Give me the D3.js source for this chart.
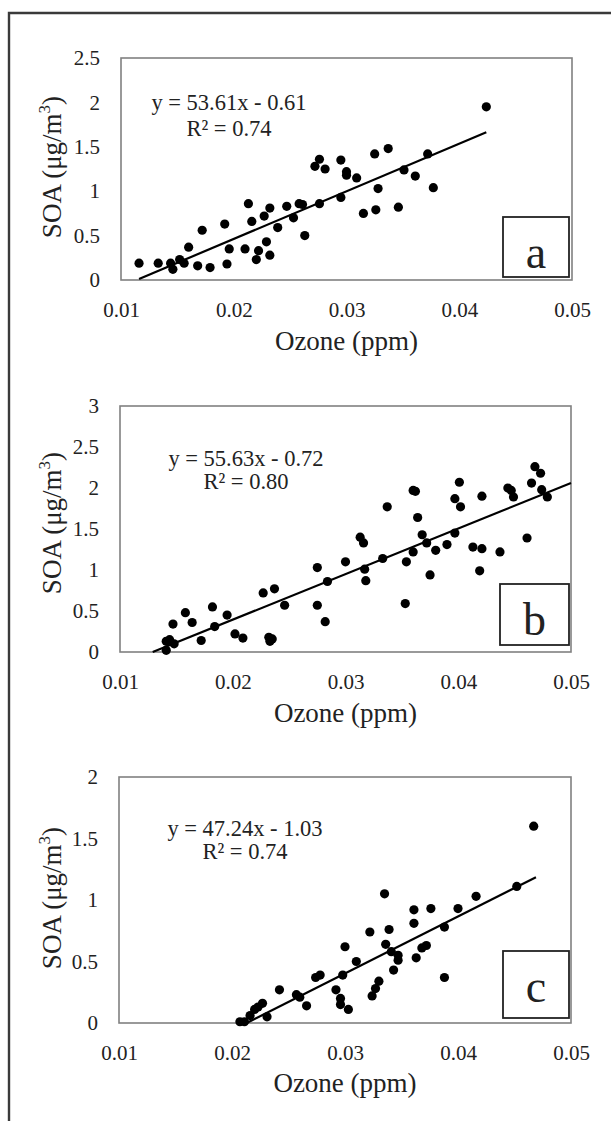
<!DOCTYPE html>
<html>
<head>
<meta charset="utf-8">
<script src="https://cdn.jsdelivr.net/npm/d3@7"></script>
</head>
<body style="margin:0">
<svg id="chart" width="611" height="1121"></svg>
<script>
// Ozone (ppm) vs SOA (µg/m3) measurements, one pair of arrays per panel
const ozoneA = [0.0116,0.0133,0.0144,0.0146,0.0152,0.0156,0.0160,0.0168,0.0172,0.0179,
  0.0192,0.0194,0.0196,0.0210,0.0213,0.0216,0.0220,0.0222,0.0227,0.0229,
  0.0232,0.0232,0.0239,0.0247,0.0253,0.0258,0.0261,0.0263,0.0272,0.0276,
  0.0281,0.0276,0.0295,0.0295,0.0300,0.0300,0.0309,0.0325,0.0337,0.0328,
  0.0315,0.0326,0.0346,0.0351,0.0361,0.0372,0.0377,0.0424];
const soaA = [0.19,0.19,0.19,0.12,0.23,0.19,0.37,0.16,0.56,0.14,
  0.63,0.18,0.35,0.35,0.86,0.66,0.23,0.33,0.72,0.43,
  0.28,0.81,0.59,0.83,0.70,0.86,0.85,0.50,1.28,1.36,
  1.25,0.86,1.35,0.93,1.22,1.18,1.15,1.42,1.48,1.03,
  0.75,0.79,0.82,1.24,1.17,1.42,1.04,1.95];

const ozoneB = [0.0141,0.0141,0.0144,0.0148,0.0147,0.0158,0.0164,0.0172,0.0182,0.0184,
  0.0195,0.0202,0.0209,0.0227,0.0237,0.0232,0.0233,0.0235,0.0246,0.0275,
  0.0275,0.0284,0.0282,0.0300,0.0313,0.0316,0.0317,0.0318,0.0333,0.0337,
  0.0354,0.0353,0.0360,0.0360,0.0362,0.0364,0.0368,0.0372,0.0375,0.0380,
  0.0390,0.0397,0.0397,0.0402,0.0401,0.0413,0.0421,0.0419,0.0421,0.0437,
  0.0444,0.0447,0.0449,0.0461,0.0465,0.0468,0.0473,0.0474,0.0479];
const soaB = [0.02,0.13,0.15,0.10,0.34,0.48,0.36,0.14,0.55,0.31,
  0.45,0.22,0.17,0.72,0.77,0.18,0.13,0.16,0.57,1.03,
  0.57,0.86,0.37,1.10,1.40,1.33,1.01,0.87,1.14,1.77,
  1.10,0.59,1.22,1.97,1.96,1.64,1.43,1.33,0.94,1.24,
  1.31,1.45,1.87,1.77,2.07,1.28,1.26,0.99,1.90,1.22,
  2.00,1.97,1.89,1.39,2.06,2.26,2.18,1.98,1.89];

const ozoneC = [0.0207,0.0211,0.0216,0.0220,0.0223,0.0227,0.0231,0.0242,0.0257,0.0260,
  0.0266,0.0274,0.0278,0.0292,0.0296,0.0296,0.0300,0.0298,0.0303,0.0310,
  0.0322,0.0324,0.0327,0.0330,0.0335,0.0336,0.0339,0.0341,0.0343,0.0347,
  0.0347,0.0361,0.0361,0.0363,0.0368,0.0372,0.0376,0.0388,0.0388,0.0400,
  0.0416,0.0452,0.0467];
const soaC = [0.01,0.01,0.06,0.11,0.13,0.16,0.05,0.27,0.23,0.21,
  0.14,0.37,0.39,0.27,0.20,0.15,0.62,0.39,0.11,0.50,
  0.74,0.22,0.28,0.34,1.05,0.64,0.76,0.58,0.43,0.55,
  0.51,0.92,0.81,0.53,0.61,0.63,0.93,0.37,0.78,0.93,
  1.03,1.11,1.60];

// Linear fits printed on each panel
const panelLetters = ["a", "b", "c"];
const fitSlopes = [53.61, 55.63, 47.24];
const fitIntercepts = [-0.61, -0.72, -1.03];
const fitR2 = ["0.74", "0.80", "0.74"];
const fitStart = [0.0116, 0.0129, 0.0213];
const fitEnd = [0.0424, 0.05, 0.0469];

// Axes
const xDomain = [0.01, 0.05];
const xTicks = [0.01, 0.02, 0.03, 0.04, 0.05];
const yMaxes = [2.5, 3, 2];
const yTicksA = [0, 0.5, 1, 1.5, 2, 2.5];
const yTicksB = [0, 0.5, 1, 1.5, 2, 2.5, 3];
const yTicksC = [0, 0.5, 1, 1.5, 2];
const xTitle = "Ozone (ppm)";

const SERIF = "Liberation Serif";

const panels = [
  { ox: ozoneA, soa: soaA, yTicks: yTicksA, top: 58, bottom: 280, left: 121, right: 572,
    eqX: 229, eqY: 110, r2Y: 136, box: { w: 66, h: 60, dx: 3, dy: 3, base: 9 }, titleY: 167, xTitleY: 350 },
  { ox: ozoneB, soa: soaB, yTicks: yTicksB, top: 406, bottom: 652, left: 120, right: 571,
    eqX: 246, eqY: 466, r2Y: 489, box: { w: 69, h: 61, dx: 2, dy: 7, base: 10 }, titleY: 523, xTitleY: 722 },
  { ox: ozoneC, soa: soaC, yTicks: yTicksC, top: 777, bottom: 1023, left: 119, right: 571,
    eqX: 245, eqY: 836, r2Y: 859, box: { w: 66, h: 67, dx: 2, dy: 5, base: 16 }, titleY: 898, xTitleY: 1092 }
];

const svg = d3.select("#chart");

// serif label with explicit size
function label(parent, size) {
  return parent.append("text")
    .style("font-family", SERIF)
    .style("font-size", size + "px")
    .style("fill", "#222");
}

// outer frame (only top and left edges fall inside the page)
svg.append("path")
  .attr("d", "M9,1121 V13 H611")
  .attr("fill", "none")
  .attr("stroke", "#3a3a3a")
  .attr("stroke-width", 2.4);

panels.forEach((p, i) => {
  const x = d3.scaleLinear().domain(xDomain).range([p.left, p.right]);
  const y = d3.scaleLinear().domain([0, yMaxes[i]]).range([p.bottom, p.top]);

  // plot frame
  svg.append("rect")
    .attr("x", p.left).attr("y", p.top)
    .attr("width", p.right - p.left).attr("height", p.bottom - p.top)
    .attr("fill", "none").attr("stroke", "#808080").attr("stroke-width", 1.6);

  // y axis labels
  const ya = svg.append("g")
    .attr("transform", `translate(${p.left},0)`)
    .call(d3.axisLeft(y).tickValues(p.yTicks).tickSize(0).tickPadding(21).tickFormat(d => String(d)));
  ya.select(".domain").remove();
  ya.attr("font-family", SERIF).attr("font-size", 21);
  ya.selectAll("text").style("font-family", SERIF).style("font-size", "21px").style("fill", "#222");

  // x axis labels
  const xa = svg.append("g")
    .attr("transform", `translate(0,${p.bottom})`)
    .call(d3.axisBottom(x).tickValues(xTicks).tickSize(0).tickPadding(22).tickFormat(d3.format(".2f")));
  xa.select(".domain").remove();
  xa.attr("font-family", SERIF).attr("font-size", 21);
  xa.selectAll("text").style("font-family", SERIF).style("font-size", "21px").style("fill", "#222");

  // axis titles
  label(svg, 27)
    .attr("x", (p.left + p.right) / 2).attr("y", p.xTitleY)
    .attr("text-anchor", "middle")
    .text(xTitle);

  const yt = label(svg, 27)
    .attr("transform", `translate(61,${p.titleY}) rotate(-90)`)
    .attr("text-anchor", "middle");
  yt.append("tspan").text("SOA (μg/m");
  yt.append("tspan").style("font-size", "17px").attr("dy", -11).text("3");
  yt.append("tspan").attr("dy", 11).text(")");

  // points
  svg.append("g").selectAll("circle")
    .data(p.ox.map((v, k) => [v, p.soa[k]]))
    .join("circle")
    .attr("cx", d => x(d[0])).attr("cy", d => y(d[1]))
    .attr("r", 4.6).attr("fill", "#000");

  // regression line
  const fit = v => fitSlopes[i] * v + fitIntercepts[i];
  svg.append("line")
    .attr("x1", x(fitStart[i])).attr("y1", y(Math.max(0, fit(fitStart[i]))))
    .attr("x2", x(fitEnd[i])).attr("y2", y(fit(fitEnd[i])))
    .attr("stroke", "#000").attr("stroke-width", 2.2);

  // equation and R²
  const sign = fitIntercepts[i] < 0 ? "-" : "+";
  label(svg, 22.5)
    .attr("x", p.eqX).attr("y", p.eqY).attr("text-anchor", "middle")
    .text(`y = ${fitSlopes[i].toFixed(2)}x ${sign} ${Math.abs(fitIntercepts[i]).toFixed(2)}`);
  label(svg, 22.5)
    .attr("x", p.eqX).attr("y", p.r2Y).attr("text-anchor", "middle")
    .text(`R² = ${fitR2[i]}`);

  // panel letter box
  const bx = p.right - p.box.dx - p.box.w;
  const by = p.bottom - p.box.dy - p.box.h;
  svg.append("rect")
    .attr("x", bx).attr("y", by).attr("width", p.box.w).attr("height", p.box.h)
    .attr("fill", "#fff").attr("stroke", "#222").attr("stroke-width", 1.8);
  label(svg, 46)
    .attr("x", bx + p.box.w / 2).attr("y", by + p.box.h - p.box.base)
    .attr("text-anchor", "middle")
    .text(panelLetters[i]);
});
</script>
</body>
</html>
